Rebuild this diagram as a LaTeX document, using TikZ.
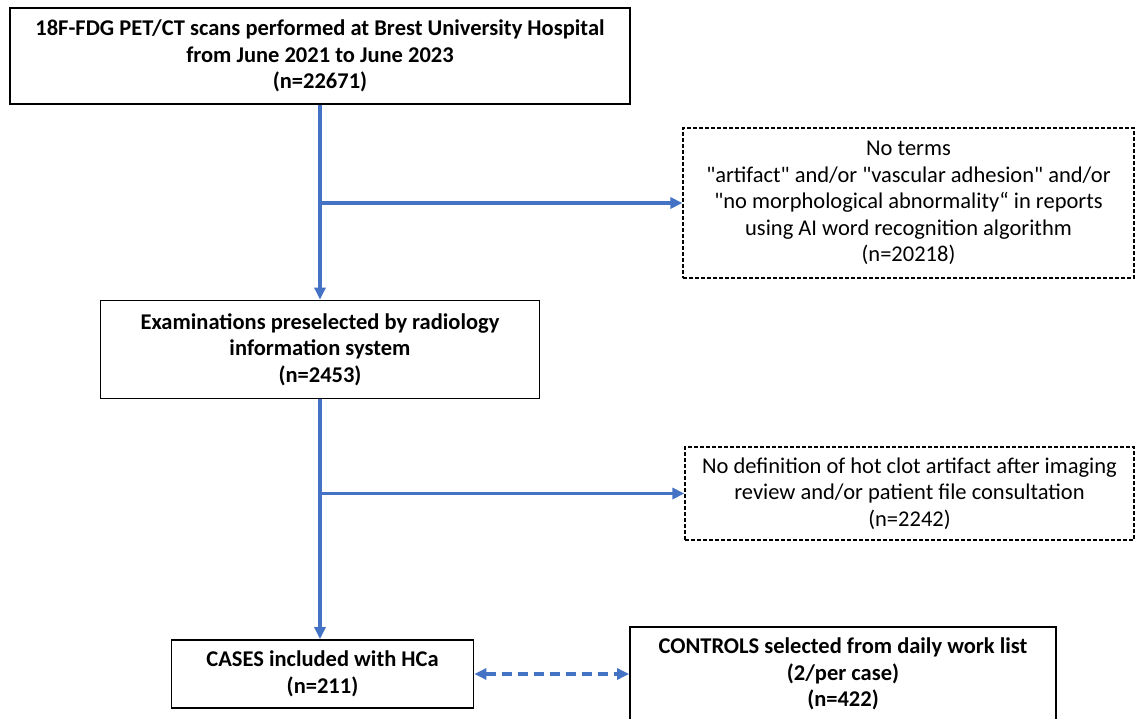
\documentclass[tikz,border=0pt]{standalone}
\usepackage{fontspec}
\setmainfont{Carlito}[Ligatures=TeXOff]
\usetikzlibrary{arrows.meta}
\definecolor{flowblue}{HTML}{4472C4}
\begin{document}
\begin{tikzpicture}[x=1pt,y=-1pt,
 box/.style={draw=black,line width=1.8pt,align=center,font=\bfseries\fontsize{22.5}{26.5}\selectfont,inner sep=0pt},
 dbox/.style={draw=black,line width=1.2pt,dash pattern=on 4pt off 2pt,align=center,font=\fontsize{22.5}{26.5}\selectfont,inner sep=0pt},
 flow/.style={draw=flowblue,line width=3.2pt,-{Triangle[length=12pt,width=11pt]}},
 dflow/.style={draw=flowblue,line width=3.2pt,dash pattern=on 10pt off 6pt,{Triangle[length=12pt,width=11pt]}-{Triangle[length=12pt,width=11pt]}},
]
\useasboundingbox (0,0) rectangle (1136,719);
\clip (0,0) rectangle (1136,719);
\fill[white] (0,0) rectangle (1136,719);
\node[box,minimum width=620pt,minimum height=96pt] (top) at (320,56)
 {18F-FDG PET/CT scans performed at Brest University Hospital\\from June 2021 to June 2023\\(n=22671)};
\node[box,minimum width=439pt,minimum height=98pt] (sel) at (320,349.5)
 {Examinations preselected by radiology\\information system\\(n=2453)};
\node[dbox,minimum width=451pt,minimum height=150pt] (ex1) at (908.5,203)
 {No terms\\"artifact" and/or "vascular adhesion" and/or\\"no morphological abnormality“ in reports\\using AI word recognition algorithm\\(n=20218)};
\node[dbox,minimum width=449pt,minimum height=93pt] (ex2) at (909.5,493.5)
 {No definition of hot clot artifact after imaging\\review and/or patient file consultation\\(n=2242)};
\node[box,minimum width=302pt,minimum height=68pt] (cases) at (322.5,674)
 {CASES included with HCa\\(n=211)};
\node[box,minimum width=426pt,minimum height=94pt] (ctrl) at (843,674)
 {CONTROLS selected from daily work list\\(2/per case)\\(n=422)};
\draw[flow] (top.south) -- (sel.north);
\draw[flow] (top.south |- ex1.west) -- (ex1.west);
\draw[flow] (sel.south) -- (sel.south |- cases.north);
\draw[flow] (sel.south |- ex2.west) -- (ex2.west);
\draw[dflow] (cases.east) -- (ctrl.west);
\end{tikzpicture}
\end{document}
